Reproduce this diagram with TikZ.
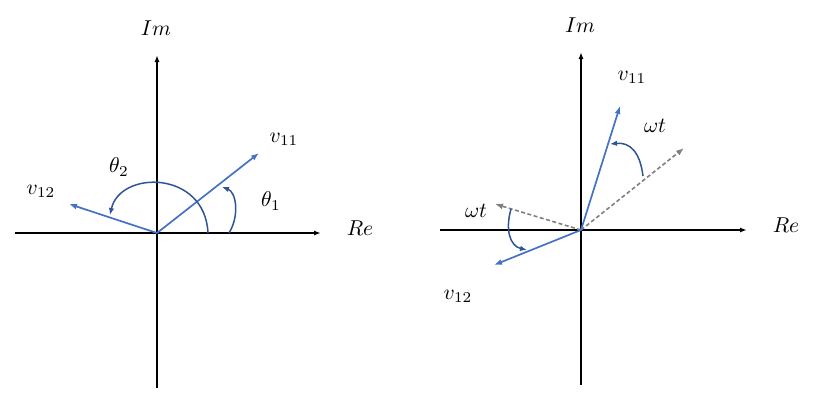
\documentclass[tikz,border=0pt]{standalone}
\usetikzlibrary{arrows.meta}
\definecolor{vecblue}{RGB}{68,114,196}
\definecolor{arcblue}{RGB}{47,85,151}
\definecolor{dashgray}{RGB}{128,128,128}
\begin{document}
\begin{tikzpicture}[x=1pt,y=-1pt,
  axis/.style={line width=1.6pt,black,-{Latex[length=7pt,width=5pt]}},
  vec/.style={line width=1.7pt,vecblue,-{Latex[length=8pt,width=6pt]}},
  angarc/.style={line width=1.5pt,arcblue,-{Latex[length=7pt,width=5.5pt]}},
  ghost/.style={line width=1.6pt,dashgray,dash pattern=on 4pt off 2.5pt,-{Latex[length=8pt,width=6pt]}},
  lbl/.style={scale=2.15,inner sep=0pt}]
\useasboundingbox (0,0) rectangle (813,408);
% ---- left diagram ----
\coordinate (O1) at (157,233);
\coordinate (L1xs) at (15,233);
\coordinate (L1xe) at (321,233);
\coordinate (L1ys) at (157,388);
\coordinate (L1ye) at (157,55);
\coordinate (L1v11) at (259,153);
\coordinate (L1v12) at (69,204);
\coordinate (A1s) at (229,233);
\coordinate (A1e) at (222,187);
\coordinate (A2s) at (208,233);
\coordinate (A2e) at (110,215);
\draw[axis] (L1xs) -- (L1xe);
\draw[axis] (L1ys) -- (L1ye);
\draw[vec] (O1) -- (L1v11);
\draw[vec] (O1) -- (L1v12);
\draw[angarc] (A1s) .. controls (240,215) and (236,192) .. (A1e);
\draw[angarc] (A2s) .. controls (205,170) and (120,170) .. (A2e);
\node[lbl] (im1) at (156,28) {$Im$};
\node[lbl] (re1) at (360,228) {$Re$};
\node[lbl] (v11a) at (284,139) {$v_{11}$};
\node[lbl] (v12a) at (41,191) {$v_{12}$};
\node[lbl] (th1) at (271,201) {$\theta_1$};
\node[lbl] (th2) at (119,167) {$\theta_2$};
% ---- right diagram ----
\coordinate (O2) at (581,230);
\coordinate (R1xs) at (440,230);
\coordinate (R1xe) at (747,230);
\coordinate (R1ys) at (581,385);
\coordinate (R1ye) at (581,52);
\coordinate (R1v11) at (620,106);
\coordinate (R1v12) at (494,265);
\coordinate (G1) at (684,148);
\coordinate (G2) at (495,204);
\coordinate (B1s) at (643,176);
\coordinate (B1e) at (610,144);
\coordinate (B2s) at (511,209);
\coordinate (B2e) at (527,250);
\draw[axis] (R1xs) -- (R1xe);
\draw[axis] (R1ys) -- (R1ye);
\draw[ghost] (O2) -- (G1);
\draw[ghost] (O2) -- (G2);
\draw[vec] (O2) -- (R1v11);
\draw[vec] (O2) -- (R1v12);
\draw[angarc] (B1s) .. controls (640,152) and (630,142) .. (B1e);
\draw[angarc] (B2s) .. controls (505,230) and (510,246) .. (B2e);
\node[lbl] (im2) at (580,25) {$Im$};
\node[lbl] (re2) at (786,225) {$Re$};
\node[lbl] (v11b) at (632,77) {$v_{11}$};
\node[lbl] (v12b) at (458,296) {$v_{12}$};
\node[lbl] (wt1) at (655,126) {$\omega t$};
\node[lbl] (wt2) at (476,211) {$\omega t$};
\end{tikzpicture}
\end{document}
